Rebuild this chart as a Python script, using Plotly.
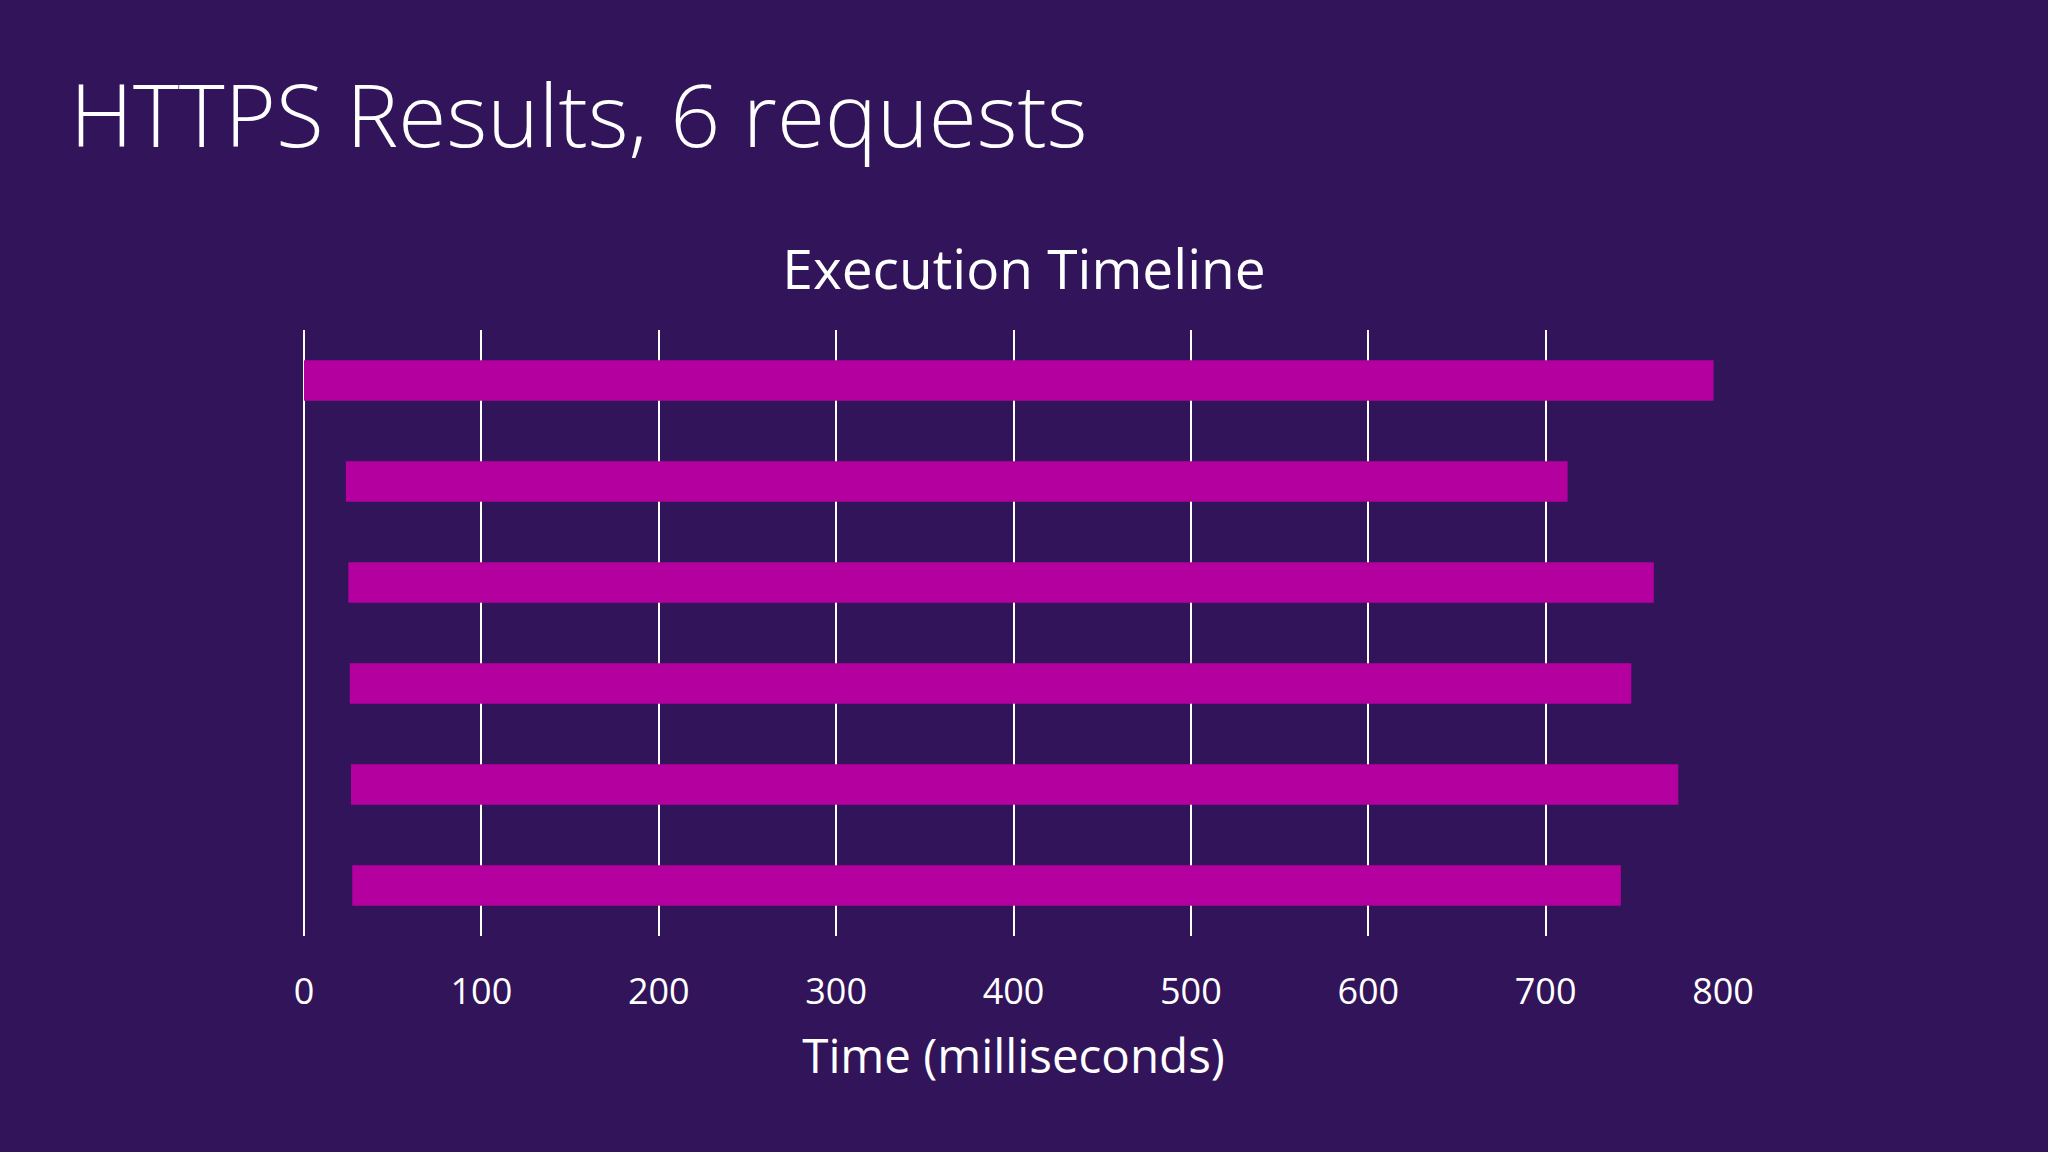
import plotly.graph_objects as go

# request timings (ms)
requests = ["Request 1", "Request 2", "Request 3", "Request 4", "Request 5", "Request 6"]
start_ms = [0, 23.6, 25, 25.8, 26.5, 27.2]
end_ms = [794.7, 712.4, 761, 748.3, 774.8, 742.4]
tick_vals = [0, 100, 200, 300, 400, 500, 600, 700, 800]

bg = "#32145A"
bar_color = "#B4009E"
font_family = "Open Sans, Noto Sans, sans-serif"

durations = [e - s for s, e in zip(start_ms, end_ms)]

data = [go.Bar(y=requests, x=durations, base=start_ms,
               orientation="h",
               marker=dict(color=bar_color, line=dict(width=0)),
               hoverinfo="x+y")]

# plot area: x 304..1723, y 330..936 (px)
plot_h = 936 - 330
plot_w = 1723 - 304

layout = go.Layout(
    width=2048, height=1152,
    paper_bgcolor=bg, plot_bgcolor=bg,
    margin=dict(l=304, r=2048 - 1723, t=330, b=1152 - 936),
    showlegend=False,
    bargap=0.6,
    title=dict(text="Execution Timeline", x=0.5, xanchor="center",
               y=1 - 270 / 1152, yanchor="middle",
               font=dict(family=font_family, size=55, color="white")),
    xaxis=dict(range=[0, 800], tickvals=tick_vals,
               showgrid=True, gridcolor="white", gridwidth=1.6,
               zeroline=True, zerolinecolor="white", zerolinewidth=1.6,
               showline=False,
               ticks="outside", ticklen=0,
               ticklabelstandoff=24,
               tickfont=dict(family=font_family, size=36, color="white"),
               title=dict(text="Time (milliseconds)", standoff=25,
                          font=dict(family=font_family, size=47.5, color="white")),
               automargin=False),
    yaxis=dict(autorange="reversed", showticklabels=False, showgrid=False,
               zeroline=False, showline=False, automargin=False),
    annotations=[dict(text="HTTPS Results, 6 requests", xref="paper", yref="paper",
                      x=(68 - 304) / plot_w, xanchor="left",
                      y=1 + (330 - 113) / plot_h, yanchor="middle",
                      showarrow=False,
                      font=dict(family=font_family, size=87.5, color="white", weight=300))],
)

fig = go.Figure(data=data, layout=layout)
fig.write_html("out.html",
               config=dict(displayModeBar=False),
               post_script="document.body.style.margin='0px';"
                           "document.body.style.backgroundColor='#32145A';")
